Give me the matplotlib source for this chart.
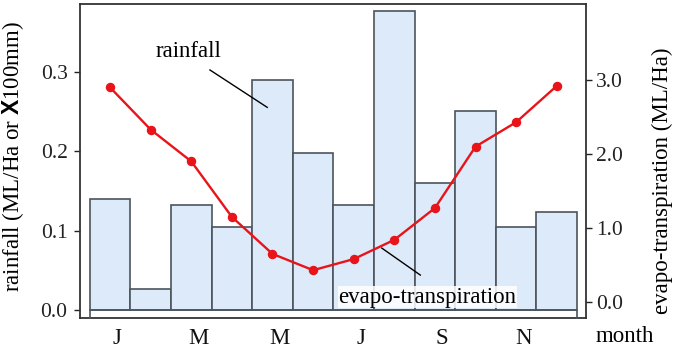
import matplotlib
matplotlib.use('Agg')
import matplotlib.pyplot as plt
import matplotlib.transforms as mtransforms
import numpy as np

# ---- data ----
months = ['J', 'F', 'M', 'A', 'M', 'J', 'J', 'A', 'S', 'O', 'N', 'D']
rainfall = [0.14, 0.027, 0.132, 0.104, 0.29, 0.197, 0.132, 0.376, 0.16, 0.25, 0.104, 0.123]
evapo = [2.9, 2.33, 1.9, 1.15, 0.65, 0.43, 0.58, 0.84, 1.27, 2.1, 2.43, 2.92]
tick_idx = [0, 2, 4, 6, 8, 10]
left_ticks = [0.0, 0.1, 0.2, 0.3]
right_ticks = [0.0, 1.0, 2.0, 3.0]

plt.rcParams['font.family'] = ['Liberation Serif', 'DejaVu Serif']
plt.rcParams['mathtext.fontset'] = 'custom'
plt.rcParams['mathtext.bf'] = 'Liberation Sans:bold'
plt.rcParams['mathtext.rm'] = 'Liberation Serif'

FS = 15.5
LFS = 16.5
W, H = 673, 350
fig = plt.figure(figsize=(W / 100, H / 100), dpi=100)
ax = fig.add_axes([80 / W, 1 - 318 / H, 506 / W, 314 / H])

x = np.arange(len(months))
bar_w = 1.0
edge = '#4c545c'
ax.bar(x, rainfall, width=bar_w, color='#ddeafa', edgecolor=edge, linewidth=1.2, zorder=2)

ax.set_xlim(-0.74, 11.72)
ax.set_ylim(-0.010, 0.385)
ylo = ax.get_ylim()[0]
# baseline bracket under bars
xl = x[0] - bar_w / 2
xr = x[-1] + bar_w / 2
ax.plot([xl, xl, xr, xr], [ylo, 0, 0, ylo], color=edge, linewidth=1.2, zorder=3, clip_on=False)

ax.set_yticks(left_ticks)
ax.set_yticklabels([f'{v:.1f}' for v in left_ticks])
ax.tick_params(axis='y', direction='out', length=4, width=1, pad=5, labelsize=FS, colors='#222222')
ax.set_xticks(tick_idx)
ax.set_xticklabels([months[i] for i in tick_idx])
ax.tick_params(axis='x', length=0, pad=7, labelsize=LFS, colors='#111111')
offset = mtransforms.ScaledTranslation(7 / 100, 0, fig.dpi_scale_trans)
for lab in ax.get_xticklabels():
    lab.set_transform(lab.get_transform() + offset)

for sp in ax.spines.values():
    sp.set_color('#333333')
    sp.set_linewidth(1.3)

ax.set_ylabel('rainfall (ML/Ha or $\\mathbf{X}$100mm)', fontsize=LFS)
ax.yaxis.set_label_coords(-0.107, 0.513)

# annotations
ax.text(1.92, 0.325, 'rainfall', fontsize=LFS, ha='center', va='center', zorder=5)
ax.plot([2.46, 3.87], [0.302, 0.255], color='black', linewidth=1.0, zorder=5)
ax.text(7.81, 0.0164, 'evapo-transpiration', fontsize=LFS, ha='center', va='center', zorder=5,
        bbox=dict(facecolor='white', edgecolor='none', pad=0.5, alpha=0.85))
ax.plot([6.69, 7.64], [0.078, 0.044], color='black', linewidth=1.0, zorder=5)

# right axis
ax2 = ax.twinx()
ax2.plot(x, evapo, color='#e8141a', linewidth=1.7, marker='o', markersize=5.8, zorder=4)
ax2.set_ylim(-0.216, 4.027)
ax2.set_yticks(right_ticks)
ax2.set_yticklabels([f'{v:.1f}' for v in right_ticks])
ax2.tick_params(axis='y', direction='out', length=4, width=1, pad=3, labelsize=FS, colors='#222222')
for sp in ax2.spines.values():
    sp.set_visible(False)
ax2.set_ylabel('evapo-transpiration (ML/Ha)', fontsize=LFS)
ax2.yaxis.set_label_coords(1.130, 0.436)

fig.text(596 / W, 1 - 336 / H, 'month', fontsize=LFS, ha='left', va='center')

fig.savefig('out.png', dpi=100)
